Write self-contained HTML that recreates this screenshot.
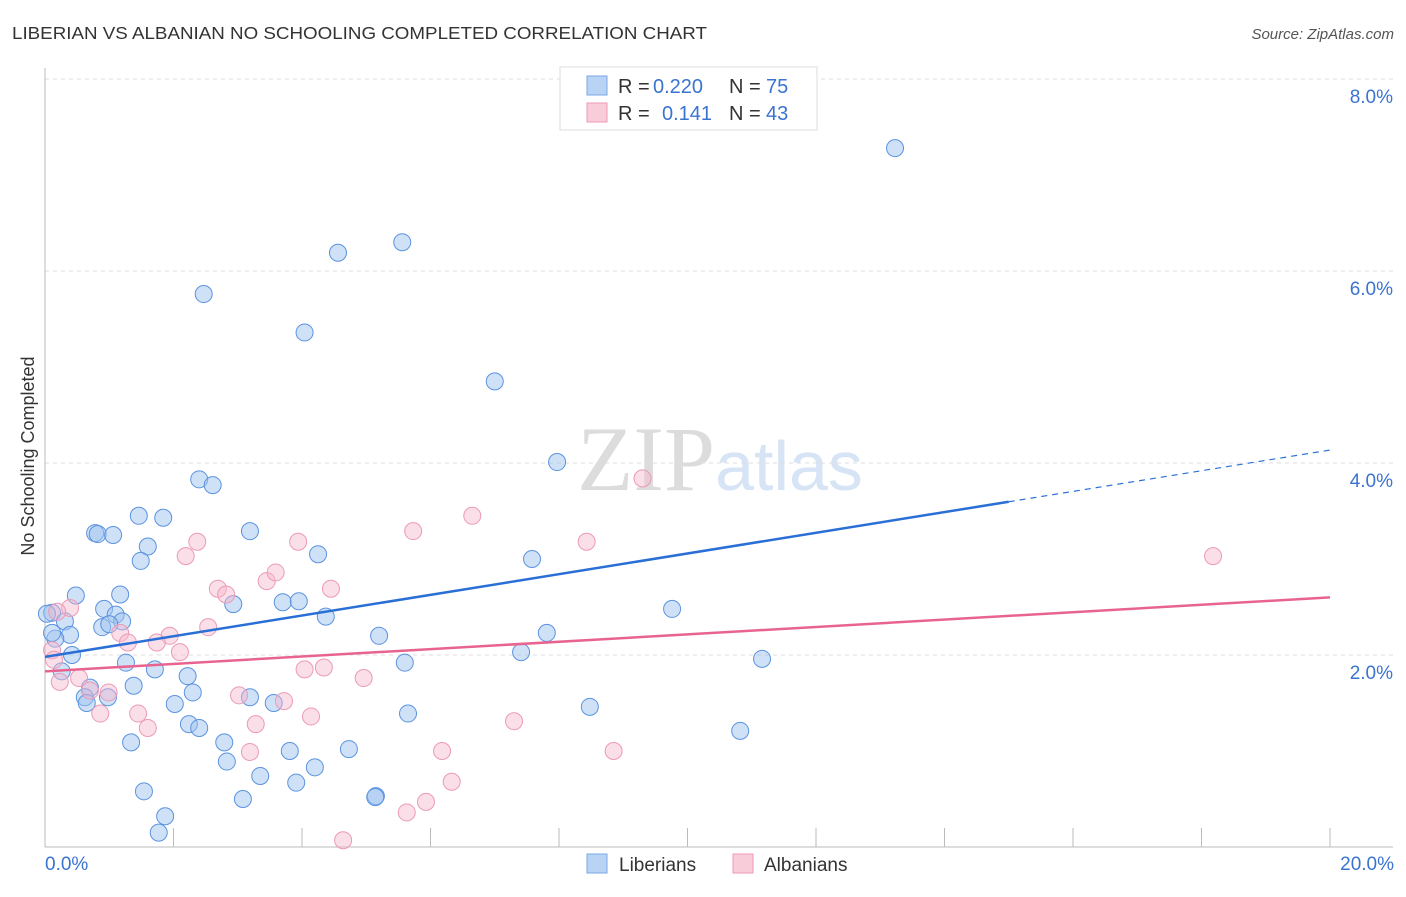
<!DOCTYPE html>
<html><head><meta charset="utf-8"><style>
body{margin:0;background:#fff;font-family:"Liberation Sans",sans-serif;}
svg text{font-family:"Liberation Sans",sans-serif;}
</style></head><body>
<svg id="chart" width="1406" height="892">
<text x="12" y="39" font-size="17.5" fill="#333" textLength="695" lengthAdjust="spacingAndGlyphs">LIBERIAN VS ALBANIAN NO SCHOOLING COMPLETED CORRELATION CHART</text>
<text x="1394" y="39" font-size="15" fill="#555" font-style="italic" text-anchor="end">Source: ZipAtlas.com</text>
<text x="720" y="490" font-size="92" fill="#e3e3e3" text-anchor="middle" font-family="Liberation Serif"><tspan fill="#dcdcdc" font-family="Liberation Serif">ZIP</tspan><tspan fill="#d6e4f5" font-family="Liberation Sans" font-size="70">atlas</tspan></text>
<text transform="translate(34,456) rotate(-90)" font-size="18" fill="#333" text-anchor="middle">No Schooling Completed</text>
<g id="grid"></g><g id="pts"></g><g id="lines"></g>
<g>
<rect x="560" y="67" width="257" height="63" fill="#fff" stroke="#ddd"/>
<rect x="587" y="76" width="20" height="19" fill="#b8d3f4" stroke="#7aa7e6"/>
<rect x="587" y="103" width="20" height="19" fill="#f9ccd9" stroke="#ee9ab4"/>
<text x="618" y="93" font-size="20" fill="#333">R =</text>
<text x="653" y="93" font-size="20" fill="#3b73d1">0.220</text>
<text x="729" y="93" font-size="20" fill="#333">N =</text>
<text x="766" y="93" font-size="20" fill="#3b73d1">75</text>
<text x="618" y="120" font-size="20" fill="#333">R =</text>
<text x="662" y="120" font-size="20" fill="#3b73d1">0.141</text>
<text x="729" y="120" font-size="20" fill="#333">N =</text>
<text x="766" y="120" font-size="20" fill="#3b73d1">43</text>
</g>
<g>
<rect x="587" y="854" width="20" height="19" fill="#b8d3f4" stroke="#7aa7e6"/>
<text x="619" y="871" font-size="19" fill="#333">Liberians</text>
<rect x="733" y="854" width="20" height="19" fill="#f9ccd9" stroke="#ee9ab4"/>
<text x="764" y="871" font-size="19" fill="#333">Albanians</text>
</g>
<text x="45" y="870" font-size="19" fill="#3b73d1">0.0%</text>
<text x="1394" y="870" font-size="19" fill="#3b73d1" text-anchor="end">20.0%</text>
</svg>
<script>
const yTicks=[2,4,6,8];
const yTickLabels=["2.0%","4.0%","6.0%","8.0%"];
const libX=[13.23,5.56,4.56,2.47,4.04,7.0,7.97,2.40,2.61,1.46,1.84,0.78,0.82,1.06,3.19,1.60,1.49,4.25,7.58,0.48,1.17,0.92,9.76,2.93,3.70,3.95,0.11,0.31,1.10,1.20,4.37,0.89,1.00,0.39,0.16,5.20,7.81,0.42,7.41,1.26,1.71,5.60,11.16,0.26,2.22,1.38,0.70,2.30,0.62,0.98,0.65,2.02,3.56,3.19,8.48,5.65,2.24,2.40,1.34,2.79,10.82,3.81,4.73,2.83,3.35,4.20,1.54,3.91,3.08,5.15,5.14,1.87,1.77,0.03,0.11];
const libY=[7.28,6.30,6.19,5.76,5.36,4.85,4.01,3.83,3.77,3.45,3.43,3.27,3.26,3.25,3.29,3.13,2.98,3.05,3.00,2.62,2.63,2.48,2.48,2.53,2.55,2.56,2.44,2.35,2.42,2.35,2.40,2.29,2.32,2.21,2.17,2.20,2.23,2.00,2.03,1.92,1.85,1.92,1.96,1.83,1.78,1.68,1.66,1.61,1.56,1.56,1.50,1.49,1.50,1.56,1.46,1.39,1.28,1.24,1.09,1.09,1.21,1.00,1.02,0.89,0.74,0.83,0.58,0.67,0.50,0.53,0.52,0.32,0.15,2.43,2.23];
const albX=[9.30,6.65,5.73,8.43,18.18,2.37,2.19,3.94,3.45,3.59,2.69,2.82,4.45,0.39,0.19,2.54,1.17,1.94,1.74,1.29,2.10,4.04,4.34,0.11,0.14,4.96,0.53,0.23,0.70,0.99,3.02,3.72,1.45,0.86,1.60,3.28,4.14,7.30,6.18,8.85,3.19,6.33,5.93,5.63,4.64];
const albY=[3.84,3.45,3.29,3.18,3.03,3.18,3.03,3.18,2.77,2.86,2.69,2.63,2.69,2.49,2.45,2.29,2.23,2.20,2.13,2.13,2.03,1.85,1.87,2.05,1.95,1.76,1.76,1.72,1.63,1.61,1.58,1.52,1.39,1.39,1.24,1.28,1.36,1.31,1.00,1.00,0.99,0.68,0.47,0.36,0.07];
const libTrend=[1.98,4.135];
const albTrend=[1.83,2.60];
const NS="http://www.w3.org/2000/svg";
const X=v=>45+v/20*1285, Y=v=>847-v*96;
function mk(t,a,p){const e=document.createElementNS(NS,t);for(const k in a)e.setAttribute(k,a[k]);p.appendChild(e);return e;}
const g=document.getElementById('grid');
yTicks.forEach((t,i)=>{
 const l=mk('line',{x1:45,x2:1393,y1:Y(t),y2:Y(t),stroke:'#ddd','stroke-dasharray':'4,4'},g);
 
 
 const tx=mk('text',{x:1393,y:Y(t)+24,'font-size':19,fill:'#3b73d1','text-anchor':'end'},g);
 tx.textContent=yTickLabels[i];
 
 
});
const ax=mk('line',{x1:45,x2:45,y1:68,y2:847,stroke:'#bbb'},g);


const bx=mk('line',{x1:45,x2:1393,y1:847,y2:847,stroke:'#bbb'},g);


for(let i=1;i<=10;i++){const t=mk('line',{x1:X(i*2),x2:X(i*2),y1:828,y2:847,stroke:'#bbb'},g);
 
 }
const p=document.getElementById('pts');
libX.forEach((v,i)=>{const c=mk('circle',{cx:X(v),cy:Y(libY[i]),r:8.5,fill:'rgba(160,196,240,0.5)',stroke:'#5b93e0','stroke-width':1},p);
 
 });
albX.forEach((v,i)=>{const c=mk('circle',{cx:X(v),cy:Y(albY[i]),r:8.5,fill:'rgba(246,184,204,0.45)',stroke:'#ec9ab5','stroke-width':1},p);
 
 });
const L=document.getElementById('lines');
const ly=x=>libTrend[0]+(libTrend[1]-libTrend[0])*x/20;
const l1=mk('line',{x1:X(0),y1:Y(ly(0)),x2:X(15),y2:Y(ly(15)),stroke:'#2a6fd6','stroke-width':2.5},L);


const l2=mk('line',{x1:X(15),y1:Y(ly(15)),x2:X(20),y2:Y(ly(20)),stroke:'#2a6fd6','stroke-width':1.2,'stroke-dasharray':'6,5'},L);


const l3=mk('line',{x1:X(0),y1:Y(albTrend[0]),x2:X(20),y2:Y(albTrend[1]),stroke:'#e8648f','stroke-width':2.5},L);


</script>
</body></html>
